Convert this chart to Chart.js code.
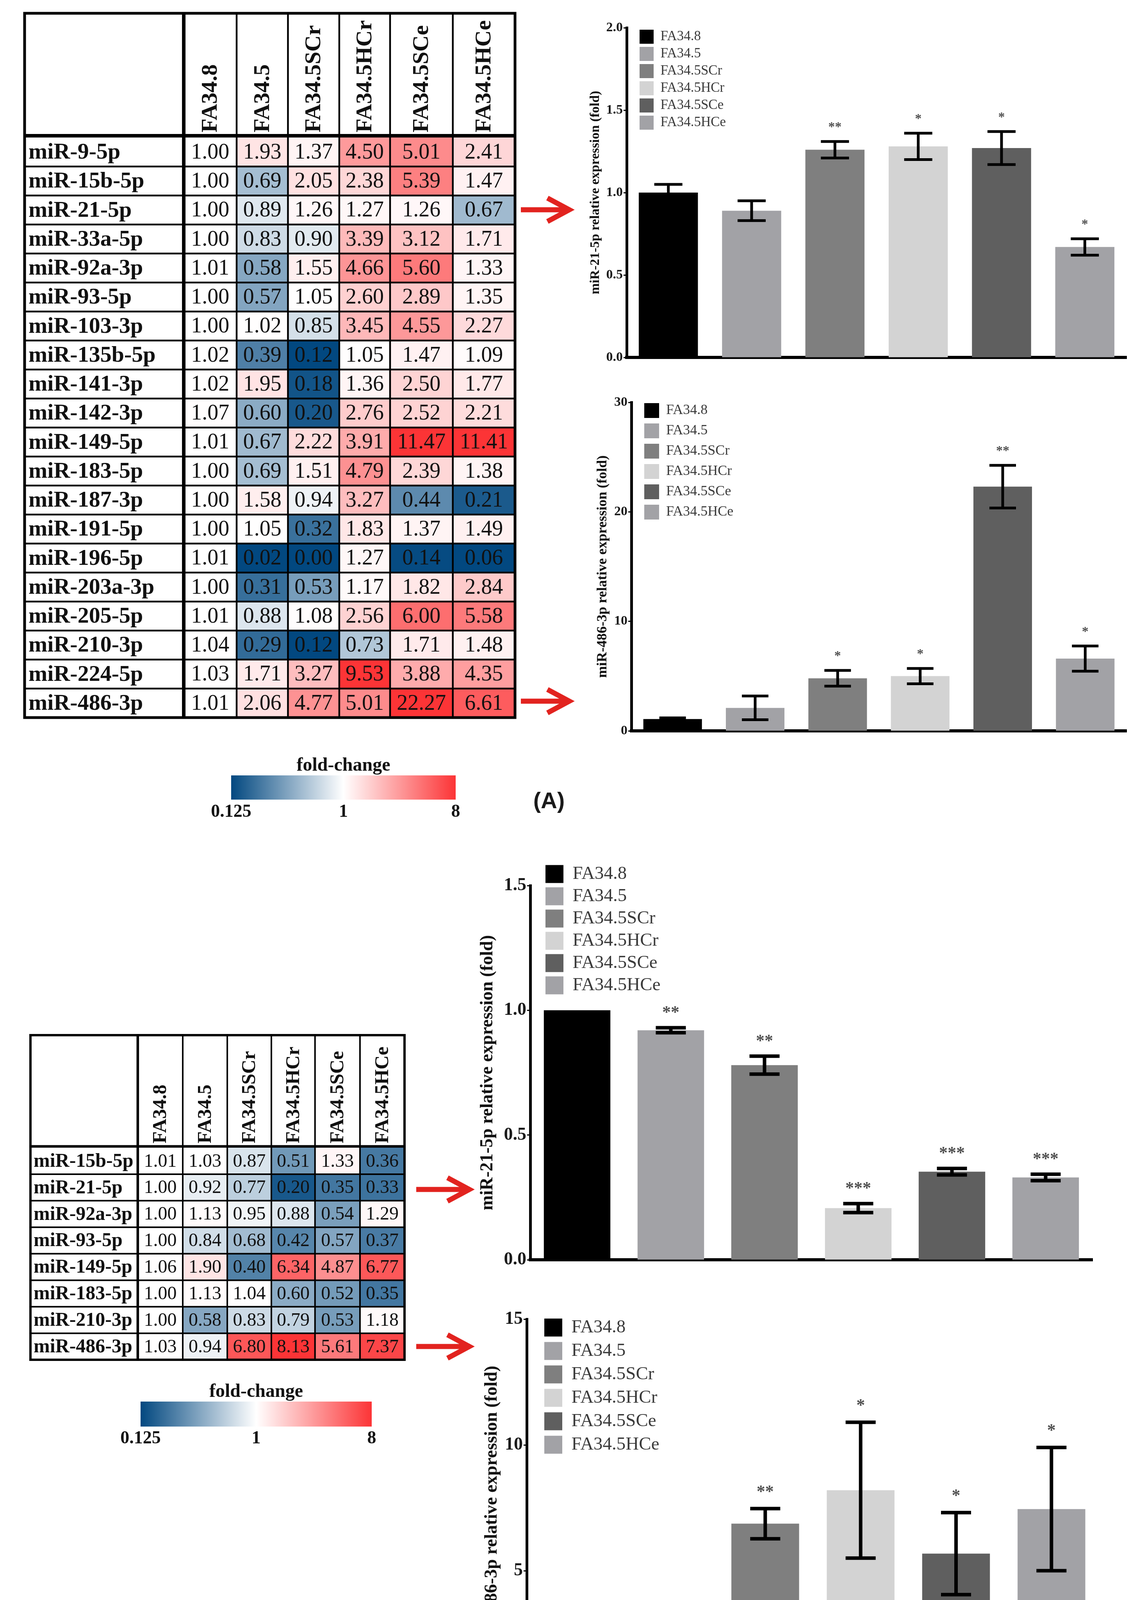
<!DOCTYPE html>
<html>
<head>
<meta charset="utf-8">
<title>miRNA fold-change heatmaps and qPCR validation</title>
<script src="https://cdn.jsdelivr.net/npm/chart.js@4.4.1/dist/chart.umd.min.js"></script>
<style>
  html, body { margin: 0; padding: 0; background: #fff; }
  body { position: relative; width: 2935px; height: 4495px; overflow: hidden; }
  .panel { position: absolute; }
  .tag { position: absolute; font: bold 58px "Liberation Sans", sans-serif; color: #1a1a1a; transform: translate(-50%, -50%); }
  svg.arrows { position: absolute; left: 0; top: 0; }
</style>
</head>
<body>

<div class="panel" style="left:55px;top:26px;width:1272px;height:1819px"><canvas id="heatA"></canvas></div>
<div class="panel" style="left:470px;top:1920px;width:820px;height:190px"><canvas id="scaleA"></canvas></div>
<div class="panel" style="left:1480px;top:30px;width:1455px;height:930px"><canvas id="mir21A"></canvas></div>
<div class="panel" style="left:1480px;top:990px;width:1455px;height:930px"><canvas id="mir486A"></canvas></div>

<div class="panel" style="left:70px;top:2642px;width:974px;height:847px"><canvas id="heatB"></canvas></div>
<div class="panel" style="left:240px;top:3520px;width:830px;height:190px"><canvas id="scaleB"></canvas></div>
<div class="panel" style="left:1210px;top:2150px;width:1725px;height:1150px"><canvas id="mir21B"></canvas></div>
<div class="panel" style="left:1210px;top:3300px;width:1725px;height:1100px"><canvas id="mir486B"></canvas></div>

<div class="tag" style="left:1406px;top:2048px">(A)</div>
<div class="tag" style="left:1404px;top:4428px">(B)</div>

<svg class="arrows" width="2935" height="4495">
  <g stroke="#e2231f" stroke-width="13" fill="none" stroke-linejoin="miter">
    <path d="M1334 537 H1452 M1402 507 L1458 537 L1402 567"/>
    <path d="M1334 1795 H1452 M1402 1765 L1458 1795 L1402 1825"/>
    <path d="M1066 3045 H1196 M1146 3015 L1202 3045 L1146 3075"/>
    <path d="M1066 3447 H1196 M1146 3417 L1202 3447 L1146 3477"/>
  </g>
</svg>

<script>
'use strict';

// ── Data ────────────────────────────────────────────────────────
const groups = ['FA34.8', 'FA34.5', 'FA34.5SCr', 'FA34.5HCr', 'FA34.5SCe', 'FA34.5HCe'];

const rowsA = ['miR-9-5p', 'miR-15b-5p', 'miR-21-5p', 'miR-33a-5p', 'miR-92a-3p',
  'miR-93-5p', 'miR-103-3p', 'miR-135b-5p', 'miR-141-3p', 'miR-142-3p',
  'miR-149-5p', 'miR-183-5p', 'miR-187-3p', 'miR-191-5p', 'miR-196-5p',
  'miR-203a-3p', 'miR-205-5p', 'miR-210-3p', 'miR-224-5p', 'miR-486-3p'];

const foldA = [
  [1.00, 1.93, 1.37, 4.50, 5.01, 2.41],
  [1.00, 0.69, 2.05, 2.38, 5.39, 1.47],
  [1.00, 0.89, 1.26, 1.27, 1.26, 0.67],
  [1.00, 0.83, 0.90, 3.39, 3.12, 1.71],
  [1.01, 0.58, 1.55, 4.66, 5.60, 1.33],
  [1.00, 0.57, 1.05, 2.60, 2.89, 1.35],
  [1.00, 1.02, 0.85, 3.45, 4.55, 2.27],
  [1.02, 0.39, 0.12, 1.05, 1.47, 1.09],
  [1.02, 1.95, 0.18, 1.36, 2.50, 1.77],
  [1.07, 0.60, 0.20, 2.76, 2.52, 2.21],
  [1.01, 0.67, 2.22, 3.91, 11.47, 11.41],
  [1.00, 0.69, 1.51, 4.79, 2.39, 1.38],
  [1.00, 1.58, 0.94, 3.27, 0.44, 0.21],
  [1.00, 1.05, 0.32, 1.83, 1.37, 1.49],
  [1.01, 0.02, 0.00, 1.27, 0.14, 0.06],
  [1.00, 0.31, 0.53, 1.17, 1.82, 2.84],
  [1.01, 0.88, 1.08, 2.56, 6.00, 5.58],
  [1.04, 0.29, 0.12, 0.73, 1.71, 1.48],
  [1.03, 1.71, 3.27, 9.53, 3.88, 4.35],
  [1.01, 2.06, 4.77, 5.01, 22.27, 6.61],
];

const rowsB = ['miR-15b-5p', 'miR-21-5p', 'miR-92a-3p', 'miR-93-5p',
  'miR-149-5p', 'miR-183-5p', 'miR-210-3p', 'miR-486-3p'];

const foldB = [
  [1.01, 1.03, 0.87, 0.51, 1.33, 0.36],
  [1.00, 0.92, 0.77, 0.20, 0.35, 0.33],
  [1.00, 1.13, 0.95, 0.88, 0.54, 1.29],
  [1.00, 0.84, 0.68, 0.42, 0.57, 0.37],
  [1.06, 1.90, 0.40, 6.34, 4.87, 6.77],
  [1.00, 1.13, 1.04, 0.60, 0.52, 0.35],
  [1.00, 0.58, 0.83, 0.79, 0.53, 1.18],
  [1.03, 0.94, 6.80, 8.13, 5.61, 7.37],
];

// colour-scale ticks (fold-change)
const scaleTicks = [0.125, 1, 8];

// qPCR validation, panel A
const mir21A      = [1.00, 0.89, 1.26, 1.28, 1.27, 0.67];
const mir21AErr   = [0.05, 0.06, 0.05, 0.08, 0.10, 0.05];
const mir21AStars = ['', '', '**', '*', '*', '*'];
const mir486A      = [1.08, 2.10, 4.80, 5.00, 22.30, 6.60];
const mir486AErr   = [0.11, 1.08, 0.72, 0.70, 1.95, 1.15];
const mir486AStars = ['', '', '*', '*', '**', '*'];

// qPCR validation, panel B
const mir21B      = [1.00, 0.92, 0.78, 0.207, 0.353, 0.330];
const mir21BErr   = [0, 0.01, 0.036, 0.018, 0.013, 0.013];
const mir21BStars = ['', '**', '**', '***', '***', '***'];
const mir486B      = [1.08, 0.95, 6.87, 8.20, 5.68, 7.45];
const mir486BErr   = [0.20, 0.18, 0.60, 2.70, 1.63, 2.45];
const mir486BStars = ['', '', '**', '*', '*', '*'];

const title21  = 'miR-21-5p relative expression (fold)';
const title486 = 'miR-486-3p relative expression (fold)';

// ── Styles ──────────────────────────────────────────────────────
const SERIF = '"Liberation Serif", "Times New Roman", serif';
Chart.defaults.font.family = SERIF;
Chart.defaults.animation = false;

const barColors = ['#000000', '#a2a2a6', '#7f7f7f', '#d3d3d3', '#5f5f5f', '#a2a2a6'];
const BLUE = [2, 72, 128];
const RED  = [252, 52, 54];

function rgb(c) { return `rgb(${c.join(',')})`; }

// linear blue → white → red, clamped at the scale ends
function foldColor(v) {
  const lo = scaleTicks[0], hi = scaleTicks[2];
  const c = v < 1 ? BLUE : RED;
  const t = v < 1 ? Math.min(1, (1 - v) / (1 - lo)) : Math.min(1, (v - 1) / (hi - 1));
  return rgb(c.map(k => Math.round(255 + (k - 255) * t)));
}

// ── Heat-map table plugin: texts, header and borders ────────────
const heatTable = {
  id: 'heatTable',
  afterDatasetsDraw(chart, args, o) {
    const { ctx, chartArea: a, scales: { x, y } } = chart;
    const n = chart.data.labels.length;
    const top = a.top - o.header;
    const mid = j => x.getPixelForValue((o.edges[j + 1] + o.edges[j + 2]) / 2);
    ctx.save();
    ctx.fillStyle = '#111';
    ctx.textBaseline = 'middle';

    // cell values
    ctx.font = o.cellFont;
    ctx.textAlign = 'center';
    o.fold.forEach((row, i) => row.forEach((v, j) => {
      ctx.fillText(v.toFixed(2), mid(j), y.getPixelForValue(i) + 2);
    }));

    // row labels
    ctx.font = o.rowFont;
    ctx.textAlign = 'left';
    chart.data.labels.forEach((lab, i) => ctx.fillText(lab, a.left + o.labelPad, y.getPixelForValue(i) + 2));

    // rotated column headers
    ctx.font = o.headFont;
    chart.data.datasets.forEach((ds, j) => {
      ctx.save();
      ctx.translate(mid(j), a.top - o.headGap);
      ctx.rotate(-Math.PI / 2);
      ctx.fillText(ds.label, 0, 2);
      ctx.restore();
    });

    // borders
    ctx.strokeStyle = '#000';
    ctx.lineWidth = o.thin;
    ctx.beginPath();
    for (let i = 1; i < n; i++) {
      const py = y.getPixelForValue(i - 0.5);
      ctx.moveTo(a.left, py); ctx.lineTo(a.right, py);
    }
    o.edges.slice(2, -1).forEach(e => {
      const px = x.getPixelForValue(e);
      ctx.moveTo(px, top); ctx.lineTo(px, a.bottom);
    });
    ctx.stroke();

    ctx.lineWidth = o.thick;
    ctx.beginPath();
    const sep = x.getPixelForValue(o.edges[1]);
    ctx.moveTo(sep, top); ctx.lineTo(sep, a.bottom);
    ctx.moveTo(a.left, a.top - o.thick / 2); ctx.lineTo(a.right, a.top - o.thick / 2);
    ctx.stroke();

    ctx.lineWidth = o.outer;
    ctx.strokeRect(a.left, top, a.right - a.left, a.bottom - top);
    ctx.restore();
  },
};

function heatmap(id, rows, fold, L) {
  const edges = [0];
  L.widths.forEach(w => edges.push(edges[edges.length - 1] + w));
  const datasets = groups.map((g, j) => ({
    label: g,
    data: rows.map(() => [edges[j + 1], edges[j + 2]]),
    backgroundColor: rows.map((r, i) => foldColor(fold[i][j])),
    borderWidth: 0,
    barPercentage: 1,
    categoryPercentage: 1,
    grouped: false,
  }));
  return new Chart(document.getElementById(id), {
    type: 'bar',
    data: { labels: rows, datasets },
    options: {
      indexAxis: 'y',
      responsive: true,
      maintainAspectRatio: false,
      layout: { padding: { left: 8, right: 8, top: 8 + L.header, bottom: 8 } },
      plugins: {
        legend: { display: false },
        tooltip: { enabled: false },
        heatTable: { ...L, edges, fold },
      },
      scales: {
        x: { type: 'linear', min: 0, max: edges[edges.length - 1], display: false },
        y: { type: 'category', display: false, offset: true },
      },
    },
    plugins: [heatTable],
  });
}

// ── Colour-scale bar ─────────────────────────────────────────────
function colorScale(id, L) {
  const tickFont = { family: SERIF, size: L.tick, weight: 'bold', lineHeight: 1 };
  return new Chart(document.getElementById(id), {
    type: 'bar',
    data: {
      labels: ['fold-change'],
      datasets: [{
        data: [[scaleTicks[0], scaleTicks[2]]],
        backgroundColor(c) {
          const xs = c.chart.scales.x;
          if (!xs || !c.chart.chartArea) return '#fff';
          const g = c.chart.ctx.createLinearGradient(xs.getPixelForValue(scaleTicks[0]), 0,
                                                     xs.getPixelForValue(scaleTicks[2]), 0);
          g.addColorStop(0, rgb(BLUE));
          g.addColorStop(0.5, '#ffffff');
          g.addColorStop(1, rgb(RED));
          return g;
        },
        borderWidth: 0,
        barPercentage: 1,
        categoryPercentage: 1,
      }],
    },
    options: {
      indexAxis: 'y',
      responsive: true,
      maintainAspectRatio: false,
      layout: { padding: L.pad },
      plugins: {
        legend: { display: false },
        tooltip: { enabled: false },
        title: {
          display: true, text: 'fold-change', color: '#111',
          font: { family: SERIF, size: L.title, weight: 'bold', lineHeight: 1 },
          padding: { top: L.titleTop, bottom: 0 },
        },
      },
      scales: {
        x: {
          type: 'logarithmic', min: scaleTicks[0], max: scaleTicks[2],
          afterBuildTicks: s => { s.ticks = scaleTicks.map(v => ({ value: v })); },
          afterFit: s => { s.height = 50; },
          grid: { display: false },
          border: { display: false },
          ticks: { autoSkip: false, maxRotation: 0, color: '#111', font: tickFont, padding: L.tickPad,
                   callback: v => String(v) },
        },
        y: { display: false },
      },
    },
  });
}

// ── Bar charts with error bars and significance stars ──────────
const errorBars = {
  id: 'errorBars',
  afterDatasetsDraw(chart, args, o) {
    const { ctx, scales: { y } } = chart;
    const values = chart.data.datasets[0].data;
    const bars = chart.getDatasetMeta(0).data;
    ctx.save();
    ctx.strokeStyle = '#000';
    ctx.lineWidth = o.width;
    ctx.beginPath();
    bars.forEach((bar, i) => {
      const e = o.errs[i];
      if (!e) return;
      const hi = y.getPixelForValue(values[i] + e);
      const lo = y.getPixelForValue(values[i] - e);
      ctx.moveTo(bar.x, hi); ctx.lineTo(bar.x, lo);
      ctx.moveTo(bar.x - o.cap / 2, hi); ctx.lineTo(bar.x + o.cap / 2, hi);
      ctx.moveTo(bar.x - o.cap / 2, lo); ctx.lineTo(bar.x + o.cap / 2, lo);
    });
    ctx.stroke();

    ctx.fillStyle = '#505050';
    ctx.font = `bold ${o.star}px ${SERIF}`;
    ctx.textAlign = 'center';
    ctx.textBaseline = 'alphabetic';
    bars.forEach((bar, i) => {
      if (!o.stars[i]) return;
      const top = y.getPixelForValue(values[i] + o.errs[i]);
      ctx.fillText(o.stars[i], bar.x, top - o.gap + o.star * 0.5);
    });
    ctx.restore();
  },
};

// chartArea legend, moved to its place inside the plot
const legendPlace = {
  id: 'legendPlace',
  afterLayout(chart, args, o) {
    const lg = chart.legend;
    if (!lg) return;
    const a = chart.chartArea;
    lg.left = a.left + o.x;
    lg.top = a.top + o.y;
    lg.right = lg.left + lg.width;
    lg.bottom = lg.top + lg.height;
  },
};

function barChart(id, values, errs, stars, yTitle, L) {
  return new Chart(document.getElementById(id), {
    type: 'bar',
    data: {
      labels: groups,
      datasets: [{
        data: values,
        backgroundColor: barColors,
        borderWidth: 0,
        barPercentage: 0.71,
        categoryPercentage: 1,
      }],
    },
    options: {
      responsive: true,
      maintainAspectRatio: false,
      layout: { padding: L.pad },
      plugins: {
        tooltip: { enabled: false },
        legend: {
          display: true,
          position: 'chartArea',
          align: 'start',
          labels: {
            font: { family: SERIF, size: L.legend.size },
            color: '#3a3a3a',
            boxWidth: L.legend.box,
            boxHeight: L.legend.box,
            padding: L.legend.pad,
            generateLabels: chart => chart.data.labels.map((t, i) => ({
              text: t, fillStyle: barColors[i], strokeStyle: barColors[i],
              lineWidth: 0, hidden: false, index: i, fontColor: '#3a3a3a',
            })),
          },
        },
        legendPlace: { x: L.legend.x, y: L.legend.y },
        errorBars: { errs, stars, ...L.err },
      },
      scales: {
        x: {
          grid: { display: false },
          ticks: { display: false },
          border: { color: '#000', width: 8 },
          afterFit: s => { s.height = 10; },
        },
        y: {
          min: 0, max: L.max,
          ticks: {
            stepSize: L.step, color: '#1a1a1a', padding: 2,
            font: { family: SERIF, size: L.tick, weight: 'bold' },
            callback: v => v.toFixed(L.dec),
          },
          grid: { display: true, drawOnChartArea: false, drawTicks: true,
                  tickLength: 8, tickWidth: 3, tickColor: '#000' },
          border: { color: '#000', width: 7 },
          title: {
            display: true, text: yTitle, color: '#111',
            font: { family: SERIF, size: L.title, weight: 'bold' },
            padding: { top: L.titlePad, bottom: 0 },
          },
          afterFit: s => { s.width = L.yw; },
        },
      },
    },
    plugins: [errorBars, legendPlace],
  });
}

// ── Build panel A ────────────────────────────────────────────────
heatmap('heatA', rowsA, foldA, {
  widths: [3.07, 1.02, 0.99, 0.99, 0.98, 1.21, 1.2],
  header: 318, headGap: 13, labelPad: 10,
  cellFont: `56px ${SERIF}`, rowFont: `bold 58px ${SERIF}`, headFont: `bold 58px ${SERIF}`,
  thin: 4.5, thick: 9, outer: 7,
});

colorScale('scaleA', {
  pad: { left: 122, right: 123, top: 0, bottom: 13 },
  title: 48, titleTop: 17, tick: 46, tickPad: 1,
});

barChart('mir21A', mir21A, mir21AErr, mir21AStars, title21, {
  max: 2, step: 0.5, dec: 1, yw: 125,
  pad: { left: 0, right: 50, top: 41, bottom: 35 },
  tick: 34, title: 34, titlePad: 25,
  legend: { size: 35, box: 36, pad: 8, x: 25, y: -3 },
  err: { width: 7, cap: 72, star: 34, gap: 44 },
});

barChart('mir486A', mir486A, mir486AErr, mir486AStars, title486, {
  max: 30, step: 10, dec: 0, yw: 137,
  pad: { left: 0, right: 50, top: 40, bottom: 39 },
  tick: 34, title: 36, titlePad: 42,
  legend: { size: 36, box: 38, pad: 14, x: 19, y: -12 },
  err: { width: 7, cap: 68, star: 34, gap: 44 },
});

// ── Build panel B ────────────────────────────────────────────────
heatmap('heatB', rowsB, foldB, {
  widths: [2.41, 1.01, 1, 0.99, 0.98, 1.01, 1],
  header: 288, headGap: 11, labelPad: 8,
  cellFont: `48px ${SERIF}`, rowFont: `bold 50px ${SERIF}`, headFont: `bold 50px ${SERIF}`,
  thin: 4, thick: 6.5, outer: 6,
});

colorScale('scaleB', {
  pad: { left: 120, right: 118, top: 0, bottom: 8 },
  title: 48, titleTop: 20, tick: 46, tickPad: 0,
});

barChart('mir21B', mir21B, mir21BErr, mir21BStars, title21, {
  max: 1.5, step: 0.5, dec: 1, yw: 148,
  pad: { left: 0, right: 137, top: 117, bottom: 65 },
  tick: 46, title: 46, titlePad: 12,
  legend: { size: 47, box: 46, pad: 10, x: 29, y: -63 },
  err: { width: 9, cap: 77, star: 44, gap: 48 },
});

barChart('mir486B', mir486B, mir486BErr, mir486BStars, title486, {
  max: 15, step: 5, dec: 0, yw: 139,
  pad: { left: 0, right: 120, top: 77, bottom: 47 },
  tick: 46, title: 46, titlePad: 23,
  legend: { size: 47, box: 46, pad: 13, x: 32, y: -15 },
  err: { width: 9, cap: 77, star: 44, gap: 52 },
});
</script>
</body>
</html>
